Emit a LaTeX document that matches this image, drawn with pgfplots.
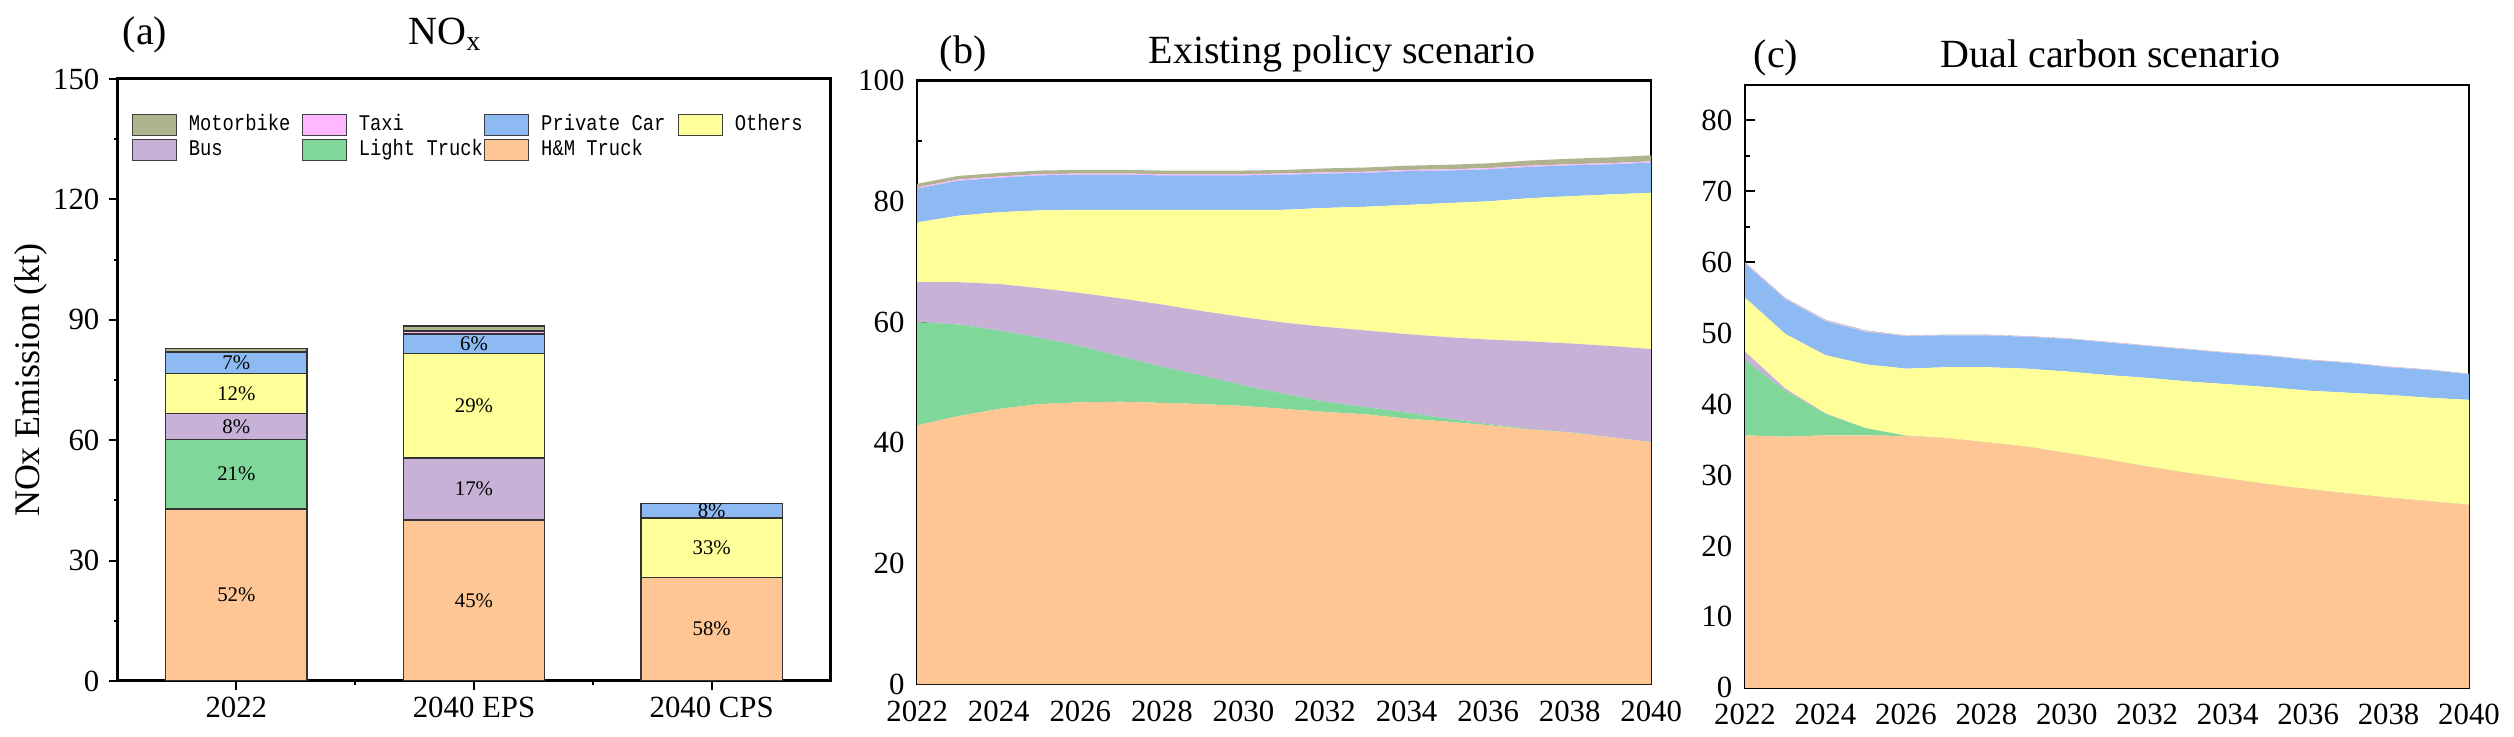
\documentclass[border=0pt]{standalone}
\usepackage{fontspec}
\setmainfont{Liberation Serif}
\newfontfamily\legfont[FakeStretch=0.84]{Liberation Mono}
\usepackage{pgfplots}
\pgfplotsset{compat=1.18}
\usepackage{pgfplotstable}

\definecolor{cHM}{RGB}{253,198,148}
\definecolor{cLT}{RGB}{127,216,153}
\definecolor{cBus}{RGB}{200,177,214}
\definecolor{cOth}{RGB}{255,255,153}
\definecolor{cPC}{RGB}{141,186,243}
\definecolor{cTaxi}{RGB}{255,184,255}
\definecolor{cMoto}{RGB}{176,180,142}

\pgfplotstableread{
x HM LT Bus Oth PC Taxi Moto
0 42.9 17.3 6.5 9.9 5.2 0.2 0.8
1 40.1 0.1 15.4 26.0 4.9 0.7 1.3
2 25.8 0.0 0.0 14.8 3.6 0.05 0.05
}\bars

\pgfplotstableread{
x y lab
0 21.45 52
0 51.55 21
0 63.45 8
0 71.65 12
0 79.2 7
1 20.05 45
1 47.95 17
1 68.55 29
1 84.05 6
2 12.9 58
2 33.2 33
2 42.4 8
}\barlabels

\pgfplotstableread{
year HM LT Bus Oth PC Taxi Moto
2022 42.9 17.1 6.6 9.9 5.6 0.2 0.6
2023 44.4 15.2 7.0 11.0 5.8 0.2 0.6
2024 45.6 13.0 7.7 11.9 5.7 0.2 0.6
2025 46.4 11.0 8.2 12.9 5.8 0.2 0.6
2026 46.7 9.3 8.8 13.8 5.8 0.2 0.6
2027 46.8 7.5 9.6 14.7 5.8 0.2 0.6
2028 46.6 6.0 10.3 15.7 5.7 0.2 0.6
2029 46.4 4.7 10.7 16.8 5.7 0.2 0.6
2030 46.1 3.4 11.3 17.8 5.7 0.2 0.6
2031 45.6 2.5 11.8 18.7 5.8 0.2 0.6
2032 45.1 1.7 12.4 19.7 5.7 0.2 0.65
2033 44.7 1.2 12.7 20.5 5.6 0.2 0.7
2034 44.0 1.0 13.0 21.4 5.6 0.2 0.7
2035 43.5 0.5 13.5 22.2 5.4 0.2 0.75
2036 42.9 0.2 14.0 22.9 5.3 0.2 0.8
2037 42.2 0.1 14.5 23.7 5.2 0.2 0.85
2038 41.7 0.05 14.7 24.4 5.1 0.2 0.9
2039 40.9 0.03 15.1 25.1 5.0 0.2 0.95
2040 40.1 0.02 15.4 25.9 5.0 0.2 1.0
}\tabB

\pgfplotstableread{
year HM LT Bus Oth PC Taxi Moto
2022 35.6 10.6 1.2 7.6 4.8 0.1 0.1
2023 35.4 6.5 0.3 7.7 4.9 0.1 0.1
2024 35.6 3.0 0.1 8.2 4.8 0.1 0.1
2025 35.6 1.0 0.0 9.0 4.6 0.1 0.1
2026 35.5 0.05 0.0 9.45 4.6 0.05 0.05
2027 35.2 0.0 0.0 10.0 4.5 0.05 0.05
2028 34.6 0.0 0.0 10.6 4.5 0.05 0.05
2029 34.0 0.0 0.0 11.0 4.5 0.05 0.05
2030 33.1 0.0 0.0 11.5 4.6 0.05 0.05
2031 32.2 0.0 0.0 11.9 4.6 0.05 0.05
2032 31.2 0.0 0.0 12.5 4.5 0.05 0.05
2033 30.3 0.0 0.0 12.9 4.5 0.05 0.05
2034 29.5 0.0 0.0 13.3 4.4 0.05 0.05
2035 28.7 0.0 0.0 13.7 4.4 0.05 0.05
2036 28.0 0.0 0.0 13.9 4.3 0.05 0.05
2037 27.4 0.0 0.0 14.2 4.2 0.05 0.05
2038 26.8 0.0 0.0 14.5 3.9 0.05 0.05
2039 26.3 0.0 0.0 14.6 3.9 0.05 0.05
2040 25.8 0.0 0.0 14.8 3.6 0.05 0.05
}\tabC

\pgfplotsset{
  common/.style={
    scale only axis,
    anchor=south west,
    /pgf/number format/assume math mode=true,
    tick label style={font=\fontsize{7.7pt}{8pt}\selectfont},
    xtick pos=left, ytick pos=left,
    axis line style={line width=0.6pt},
    every tick/.style={line width=0.5pt, black},
    minor y tick num=1,
  },
  areaplot/.style={
    common,
    tick align=inside,
    major tick length=2.5pt, minor tick length=1.25pt,
    xmin=2022, xmax=2040,
    xtick={2022,2024,...,2040},
    minor x tick num=1,
    xticklabel style={/pgf/number format/1000 sep={}, inner ysep=3.9pt},
    yticklabel style={inner xsep=3pt},
    ymin=0,
    stack plots=y,
  },
}

\begin{document}
\begin{tikzpicture}
\useasboundingbox (0,0) rectangle (628.5pt,184.25pt);

% ---------- (a) stacked bars ----------
\begin{axis}[
  common,
  at={(29.375pt,14pt)}, width=178.25pt, height=150.5pt,
  ybar stacked, bar width=0.595,
  xmin=-0.5, xmax=2.5, ymin=0, ymax=150,
  xtick={0,1,2}, xticklabels={2022,2040 EPS,2040 CPS},
  minor xtick={0.5,1.5},
  ytick={0,30,...,150},
  tick align=outside,
  major tick length=2.25pt, minor tick length=1pt,
  axis line style={line width=0.75pt},
  xticklabel style={inner ysep=1.5pt},
  yticklabel style={inner xsep=2.1pt},
  ylabel={NOx Emission (kt)},
  ylabel style={at={(axis description cs:-0.1213,0.5)}, anchor=center, font=\fontsize{9pt}{10pt}\selectfont},
  legend columns=4,
  reverse legend,
  legend style={at={(0.0198,0.942)}, anchor=north west, draw=none, fill=none,
    inner sep=0pt, outer sep=0pt, column sep=0pt, row sep=0.75pt,
    font=\legfont\fontsize{5.6pt}{6pt}\selectfont,
    nodes={inner sep=0pt, text height=4pt, text depth=1.25pt, anchor=west},
    /tikz/every odd column/.style={column sep=3pt},
    /tikz/every even column/.style={column sep=0pt}},
  legend image code/.code={\draw[#1, draw=black!75, line width=0.3pt] (0pt,-2.6pt) rectangle (11pt,2.6pt);},
  every axis plot/.append style={draw=black!80, line width=0.35pt},
]
\addplot[fill=cHM] table[x=x,y=HM]{\bars};
\addlegendentry{\makebox[34.1pt][l]{H\&M Truck}}
\addplot[fill=cLT] table[x=x,y=LT]{\bars};
\addlegendentry{\makebox[31.3pt][l]{Light Truck}}
\addplot[fill=cBus] table[x=x,y=Bus]{\bars};
\addlegendentry{\makebox[28.2pt][l]{Bus}}
\addplot[fill=cOth] table[x=x,y=Oth]{\bars};
\addlegendentry{\makebox[20pt][l]{Others}}
\addplot[fill=cPC] table[x=x,y=PC]{\bars};
\addlegendentry{\makebox[34.1pt][l]{Private Car}}
\addplot[fill=cTaxi] table[x=x,y=Taxi]{\bars};
\addlegendentry{\makebox[31.3pt][l]{Taxi}}
\addplot[fill=cMoto] table[x=x,y=Moto]{\bars};
\addlegendentry{\makebox[28.2pt][l]{Motorbike}}
\end{axis}

\begin{axis}[
  scale only axis, anchor=south west,
  at={(29.375pt,14pt)}, width=178.25pt, height=150.5pt,
  xmin=-0.5, xmax=2.5, ymin=0, ymax=150,
  hide axis,
]
\addplot[only marks, mark=*, mark size=0pt, mark options={draw=none,fill=none},
  point meta=explicit symbolic,
  nodes near coords={\pgfplotspointmeta\%},
  nodes near coords style={anchor=center, inner sep=0pt, font=\fontsize{5.2pt}{6pt}\selectfont, text=black}]
  table[x=x,y=y,meta=lab]{\barlabels};
\end{axis}

% ---------- (b) existing policy scenario ----------
\begin{axis}[
  areaplot,
  at={(229.3pt,13.2pt)}, width=183.5pt, height=150.9pt,
  ymax=100, ytick={0,20,...,100},
]
\addplot[fill=cHM, draw=none, mark=none] table[x=year,y=HM]{\tabB} \closedcycle;
\addplot[fill=cLT, draw=none, mark=none] table[x=year,y=LT]{\tabB} \closedcycle;
\addplot[fill=cBus, draw=none, mark=none] table[x=year,y=Bus]{\tabB} \closedcycle;
\addplot[fill=cOth, draw=none, mark=none] table[x=year,y=Oth]{\tabB} \closedcycle;
\addplot[fill=cPC, draw=none, mark=none] table[x=year,y=PC]{\tabB} \closedcycle;
\addplot[fill=cTaxi, draw=none, mark=none] table[x=year,y=Taxi]{\tabB} \closedcycle;
\addplot[fill=cMoto, draw=none, mark=none] table[x=year,y=Moto]{\tabB} \closedcycle;
\end{axis}

% ---------- (c) dual carbon scenario ----------
\begin{axis}[
  areaplot,
  at={(436.25pt,12.3pt)}, width=181pt, height=150.7pt,
  ymax=85, ytick={0,10,...,80},
]
\addplot[fill=cHM, draw=none, mark=none] table[x=year,y=HM]{\tabC} \closedcycle;
\addplot[fill=cLT, draw=none, mark=none] table[x=year,y=LT]{\tabC} \closedcycle;
\addplot[fill=cBus, draw=none, mark=none] table[x=year,y=Bus]{\tabC} \closedcycle;
\addplot[fill=cOth, draw=none, mark=none] table[x=year,y=Oth]{\tabC} \closedcycle;
\addplot[fill=cPC, draw=none, mark=none] table[x=year,y=PC]{\tabC} \closedcycle;
\addplot[fill=cTaxi, draw=none, mark=none] table[x=year,y=Taxi]{\tabC} \closedcycle;
\addplot[fill=cMoto, draw=none, mark=none] table[x=year,y=Moto]{\tabC} \closedcycle;
\end{axis}

% ---------- titles ----------
\begin{scope}[every node/.style={anchor=base, inner sep=0pt, font=\fontsize{10pt}{12pt}\selectfont}]
\node at (36.25pt,173pt) {(a)};
\node at (111.4pt,173pt) {NO\textsubscript{x}};
\node at (240.75pt,168.4pt) {(b)};
\node at (335.5pt,168.4pt) {Existing policy scenario};
\node at (444pt,167.25pt) {(c)};
\node at (527.6pt,167.25pt) {Dual carbon scenario};
\end{scope}
\end{tikzpicture}
\end{document}
